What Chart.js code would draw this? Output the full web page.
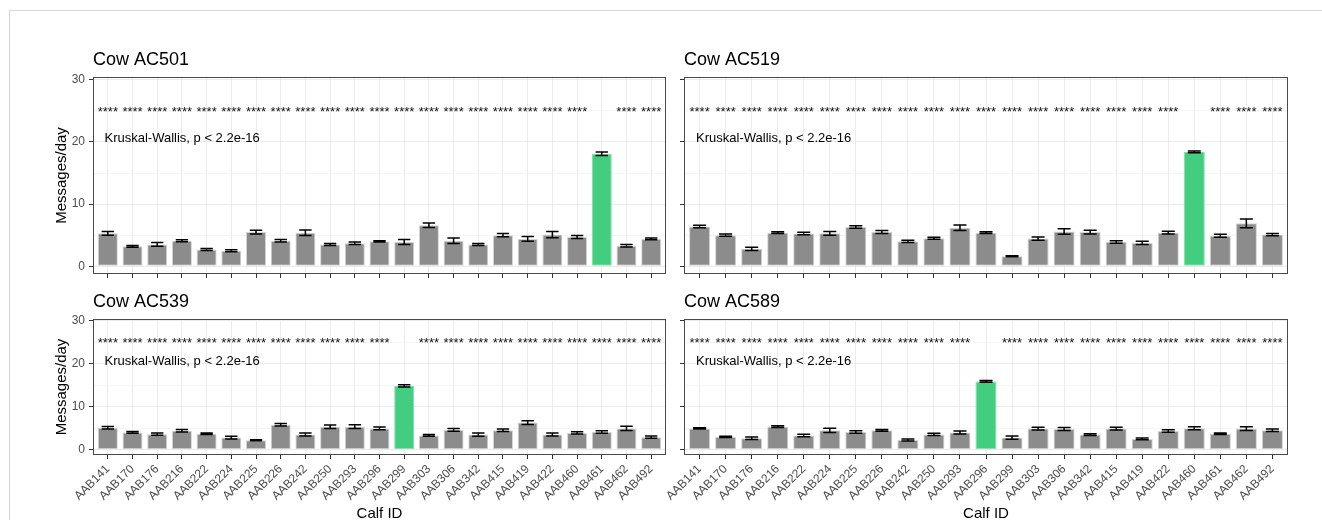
<!DOCTYPE html>
<html>
<head>
<meta charset="utf-8">
<title>Messages per day by calf</title>
<script src="https://cdn.jsdelivr.net/npm/chart.js@4.4.0/dist/chart.umd.min.js"></script>
<style>
  html, body { margin: 0; padding: 0; background: #fff; width: 1322px; height: 520px; overflow: hidden; }
  #wrap { position: relative; width: 1322px; height: 520px; }
  #frame { position: absolute; left: 9px; top: 10px; right: -2px; bottom: -2px;
           border-left: 1px solid #d6d6d6; border-top: 1px solid #d6d6d6; }
  canvas { position: absolute; left: 0; top: 0; }
</style>
</head>
<body>
<div id="wrap">
  <div id="frame"></div>
  <canvas id="pAC501" width="1322" height="520"></canvas>
  <canvas id="pAC519" width="1322" height="520"></canvas>
  <canvas id="pAC539" width="1322" height="520"></canvas>
  <canvas id="pAC589" width="1322" height="520"></canvas>
</div>
<script>
// ---- data -------------------------------------------------------------
const calfIds = ['AAB141','AAB170','AAB176','AAB216','AAB222','AAB224','AAB225','AAB226',
                 'AAB242','AAB250','AAB293','AAB296','AAB299','AAB303','AAB306','AAB342',
                 'AAB415','AAB419','AAB422','AAB460','AAB461','AAB462','AAB492'];
const yMajorTicks = [0, 10, 20, 30];
const yMinorTicks = [5, 15, 25];

// mean messages/day and standard error per calf, one pair per cow
const meanAC501 = [5.3, 3.2, 3.5, 4.1, 2.7, 2.5, 5.5, 4.1, 5.4, 3.5, 3.7, 4.0,
                   3.9, 6.6, 4.1, 3.5, 5.0, 4.4, 5.1, 4.7, 18.1, 3.3, 4.4];
const seAC501   = [0.30, 0.15, 0.30, 0.15, 0.15, 0.15, 0.30, 0.20, 0.45, 0.15, 0.20, 0.12,
                   0.40, 0.35, 0.45, 0.15, 0.25, 0.40, 0.50, 0.25, 0.30, 0.20, 0.15];
const meanAC519 = [6.4, 5.0, 2.8, 5.4, 5.25, 5.3, 6.3, 5.5, 4.0, 4.5, 6.2, 5.4,
                   1.6, 4.45, 5.6, 5.5, 3.9, 3.75, 5.4, 18.4, 4.9, 6.9, 5.1];
const seAC519   = [0.20, 0.18, 0.25, 0.15, 0.20, 0.30, 0.20, 0.25, 0.20, 0.15, 0.45, 0.15,
                   0.08, 0.25, 0.45, 0.30, 0.22, 0.27, 0.22, 0.15, 0.25, 0.72, 0.18];
const meanAC539 = [5.1, 4.0, 3.6, 4.4, 3.7, 2.8, 2.2, 5.8, 3.5, 5.35, 5.35, 4.95,
                   14.85, 3.3, 4.6, 3.5, 4.5, 6.3, 3.5, 3.9, 4.1, 4.95, 2.9];
const seAC539   = [0.30, 0.20, 0.25, 0.30, 0.20, 0.30, 0.10, 0.30, 0.35, 0.40, 0.45, 0.30,
                   0.25, 0.20, 0.30, 0.40, 0.30, 0.45, 0.35, 0.25, 0.30, 0.50, 0.25];
const meanAC589 = [4.95, 2.95, 2.65, 5.35, 3.3, 4.5, 4.1, 4.5, 2.25, 3.55, 4.0, 15.9,
                   2.8, 4.9, 4.8, 3.5, 4.9, 2.5, 4.35, 5.0, 3.7, 4.9, 4.5];
const seAC589   = [0.15, 0.15, 0.30, 0.20, 0.30, 0.50, 0.30, 0.20, 0.25, 0.25, 0.35, 0.20,
                   0.35, 0.30, 0.35, 0.20, 0.30, 0.20, 0.30, 0.35, 0.20, 0.45, 0.30];

// each cow's own calf (reference group of the pairwise tests)
const ownCalf = { AC501: 'AAB461', AC519: 'AAB460', AC539: 'AAB299', AC589: 'AAB296' };

const testLabel   = 'Kruskal-Wallis, p < 2.2e-16';
const signifLabel = '****';

// ---- styling ----------------------------------------------------------
const FONT   = "'Liberation Sans', Arial, Helvetica, sans-serif";
const GREY   = '#8c8c8c';
const GREEN  = '#43cd80';
const SIGNIF_Y = 25;     // y (data units) of the significance stars
const TEST_Y   = 20.6;   // y (data units) of the global test label
const CAP      = 0.5;    // error-bar cap width in category units
const W = 1322, H = 520;

function decorPlugin(p) {
  return {
    id: 'decor_' + p.key,
    afterDatasetsDraw(chart) {
      const { ctx, chartArea: a, scales: { x, y } } = chart;
      const own = calfIds.indexOf(ownCalf[p.key]);
      ctx.save();
      // error bars
      ctx.strokeStyle = '#000';
      ctx.lineWidth = 1.5;
      p.mean.forEach((m, i) => {
        const px = x.getPixelForValue(i);
        const hw = x.getPixelForValue(i + CAP / 2) - px;
        const lo = y.getPixelForValue(m - p.se[i]);
        const hi = y.getPixelForValue(m + p.se[i]);
        ctx.beginPath();
        ctx.moveTo(px, lo); ctx.lineTo(px, hi);
        ctx.moveTo(px - hw, lo); ctx.lineTo(px + hw, lo);
        ctx.moveTo(px - hw, hi); ctx.lineTo(px + hw, hi);
        ctx.stroke();
      });
      // significance stars against the cow's own calf
      ctx.fillStyle = '#111';
      ctx.font = '13px ' + FONT;
      ctx.textAlign = 'center';
      ctx.textBaseline = 'alphabetic';
      calfIds.forEach((c, i) => {
        if (i === own) return;
        ctx.fillText(signifLabel, x.getPixelForValue(i), y.getPixelForValue(SIGNIF_Y) + 5);
      });
      // global test label, left-anchored near the panel edge
      ctx.fillStyle = '#000';
      ctx.textAlign = 'left';
      ctx.textBaseline = 'middle';
      ctx.fillText(testLabel, a.left + 0.02 * (a.right - a.left), y.getPixelForValue(TEST_Y));
      // panel border
      ctx.strokeStyle = '#4a4a4a';
      ctx.lineWidth = 1;
      ctx.strokeRect(Math.round(a.left) + 0.5, Math.round(a.top) + 0.5,
                     Math.round(a.right - a.left) - 1, Math.round(a.bottom - a.top) - 1);
      // facet title
      ctx.fillStyle = '#000';
      ctx.font = '18px ' + FONT;
      ctx.textAlign = 'left';
      ctx.textBaseline = 'middle';
      ctx.fillText(p.title, a.left, a.top - 17);
      ctx.restore();
    }
  };
}

function makePanel(p) {
  const own = calfIds.indexOf(ownCalf[p.key]);
  const yAxisW = p.yLabels ? 38 : 5;
  const xAxisH = p.xLabels ? (H - p.box.b) : 5;
  const isMinor = c => c.tick && yMinorTicks.includes(c.tick.value);
  return new Chart(document.getElementById(p.canvas), {
    type: 'bar',
    data: {
      datasets: [{
        data: p.mean.map((v, i) => ({ x: i, y: v })),
        backgroundColor: p.mean.map((v, i) => i === own ? GREEN : GREY),
        borderColor: p.mean.map((v, i) => i === own ? '#7ee0a8' : '#d4d4d4'),
        borderWidth: 1,
        borderSkipped: false,
        barPercentage: 0.81,
        categoryPercentage: 1
      }]
    },
    options: {
      responsive: false,
      animation: false,
      events: [],
      layout: { padding: { left: p.box.l - yAxisW, top: p.box.t, right: W - p.box.r,
                           bottom: H - p.box.b - xAxisH } },
      plugins: { legend: { display: false }, tooltip: { enabled: false }, title: { display: false } },
      scales: {
        x: {
          type: 'linear',
          offset: false,
          min: -0.6, max: calfIds.length - 0.4,
          bounds: 'data',
          afterBuildTicks: s => { s.ticks = calfIds.map((c, i) => ({ value: i })); },
          afterFit: s => { s.height = xAxisH; s.paddingLeft = 0; s.paddingRight = 0; },
          ticks: {
            display: true, autoSkip: false, minRotation: 45, maxRotation: 45, padding: 3,
            color: '#4d4d4d', font: { family: FONT, size: 12 },
            callback: v => p.xLabels ? calfIds[v] : ''
          },
          grid: { offset: false, color: '#ebebeb', lineWidth: 1, tickColor: '#333',
                  tickLength: 4, tickWidth: 1 },
          border: { display: false },
          title: { display: p.xLabels, text: 'Calf ID', color: '#000', padding: 0,
                   font: { family: FONT, size: 15, lineHeight: '12px' } }
        },
        y: {
          type: 'linear',
          min: -1.25, max: 30.45,
          bounds: 'data',
          afterBuildTicks: s => {
            s.ticks = yMajorTicks.concat(yMinorTicks).sort((a, b) => a - b).map(v => ({ value: v }));
          },
          afterFit: s => { s.width = yAxisW; s.paddingTop = 0; s.paddingBottom = 0; },
          ticks: {
            padding: 4, color: '#4d4d4d', font: { family: FONT, size: 12 },
            callback: v => (p.yLabels && yMajorTicks.includes(v)) ? String(v) : ''
          },
          grid: {
            color: c => isMinor(c) ? '#f5f5f5' : '#ebebeb',
            tickColor: c => isMinor(c) ? 'rgba(0,0,0,0)' : '#333',
            tickLength: 4, lineWidth: 1, tickWidth: 1
          },
          border: { display: false },
          title: { display: p.yLabels, text: 'Messages/day', color: '#000', padding: 0,
                   font: { family: FONT, size: 15, lineHeight: '14px' } }
        }
      }
    },
    plugins: [decorPlugin(p)]
  });
}

const panels = [
  { key: 'AC501', canvas: 'pAC501', title: 'Cow AC501', mean: meanAC501, se: seAC501,
    box: { l: 93, t: 77, r: 666, b: 274 }, yLabels: true,  xLabels: false },
  { key: 'AC519', canvas: 'pAC519', title: 'Cow AC519', mean: meanAC519, se: seAC519,
    box: { l: 684, t: 77, r: 1288, b: 274 }, yLabels: false, xLabels: false },
  { key: 'AC539', canvas: 'pAC539', title: 'Cow AC539', mean: meanAC539, se: seAC539,
    box: { l: 93, t: 319, r: 666, b: 455 }, yLabels: true,  xLabels: true },
  { key: 'AC589', canvas: 'pAC589', title: 'Cow AC589', mean: meanAC589, se: seAC589,
    box: { l: 684, t: 319, r: 1288, b: 455 }, yLabels: false, xLabels: true }
];

panels.forEach(makePanel);
</script>
</body>
</html>
